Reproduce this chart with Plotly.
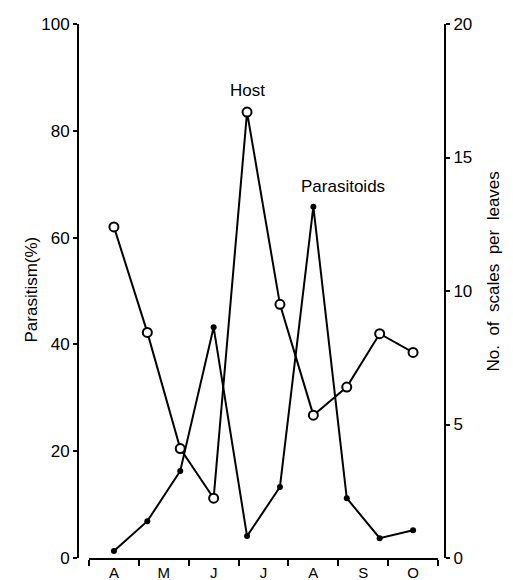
import plotly.graph_objects as go

# Sampling times, in month units (0 = April centre, 6 = October centre)
sample_time = [0, 0.67, 1.33, 2, 2.67, 3.33, 4, 4.67, 5.33, 6]
host_scales = [12.4, 8.45, 4.1, 2.24, 16.7, 9.5, 5.35, 6.4, 8.4, 7.7]
parasitism_pct = [1.3, 6.9, 16.3, 43.2, 4.1, 13.3, 65.8, 11.2, 3.7, 5.2]

month_pos = [0, 1, 2, 3, 4, 5, 6]
month_labels = ["A", "M", "J", "J", "A", "S", "O"]
month_bounds = [-0.5, 0.5, 1.5, 2.5, 3.5, 4.5, 5.5, 6.5]

left_ticks = [0, 20, 40, 60, 80, 100]
right_ticks = [0, 5, 10, 15, 20]

FONT = "Liberation Sans, Arial, sans-serif"

fig = go.Figure()
fig.add_trace(go.Scatter(
    x=sample_time, y=parasitism_pct, mode="lines+markers", name="Parasitoids",
    line=dict(color="black", width=2),
    marker=dict(symbol="circle", size=6, color="black"),
    yaxis="y"))
fig.add_trace(go.Scatter(
    x=sample_time, y=host_scales, mode="lines+markers", name="Host",
    line=dict(color="black", width=2),
    marker=dict(symbol="circle", size=9, color="white", line=dict(color="black", width=2)),
    yaxis="y2"))

L, R = 78, 445
TOP, BOT = 24, 558
W = R - L
H = BOT - TOP
fig.update_layout(
    width=513, height=580,
    margin=dict(l=L, r=513 - R, t=TOP, b=580 - BOT, autoexpand=False),
    paper_bgcolor="white", plot_bgcolor="white",
    showlegend=False,
    font=dict(family=FONT, size=17, color="black"),
    xaxis=dict(
        domain=[(89 - L) / W, (438 - L) / W],
        range=[-0.5, 6.5], showgrid=False, zeroline=False,
        showline=True, linecolor="black", linewidth=2,
        tickvals=month_pos, ticktext=month_labels, ticks="",
        tickfont=dict(size=15), automargin=False,
        minor=dict(tickvals=month_bounds, ticks="outside", ticklen=6,
                   tickcolor="black", tickwidth=2),
    ),
    yaxis=dict(
        range=[0, 100], tickvals=left_ticks, showgrid=False, zeroline=False,
        showline=True, linecolor="black", linewidth=2,
        ticks="outside", ticklen=4, tickwidth=2, tickcolor="black",
        anchor="free", position=0, automargin=False,
    ),
    yaxis2=dict(
        range=[0, 20], tickvals=right_ticks, showgrid=False, zeroline=False,
        showline=True, linecolor="black", linewidth=2,
        ticks="outside", ticklen=4, tickwidth=2, tickcolor="black",
        overlaying="y", side="right", anchor="free", position=1, automargin=False,
    ),
    annotations=[
        dict(x=2.68, y=87.5, xref="x", yref="y", text="Host", showarrow=False,
             font=dict(size=17)),
        dict(x=4.6, y=69.5, xref="x", yref="y", text="Parasitoids", showarrow=False,
             font=dict(size=17)),
        dict(x=(19 - L) / W, y=(BOT - 290) / H, xref="paper", yref="paper",
             text="Parasitism(%)", textangle=-90, showarrow=False,
             font=dict(size=17)),
        dict(x=(504 - L) / W, y=(BOT - 272) / H, xref="paper", yref="paper",
             text="No.  of  scales  per  leaves", textangle=-90, showarrow=False,
             font=dict(size=17)),
    ],
)

fig.write_html("out.html", config={"displayModeBar": False},
               post_script="document.body.style.margin='0';")
